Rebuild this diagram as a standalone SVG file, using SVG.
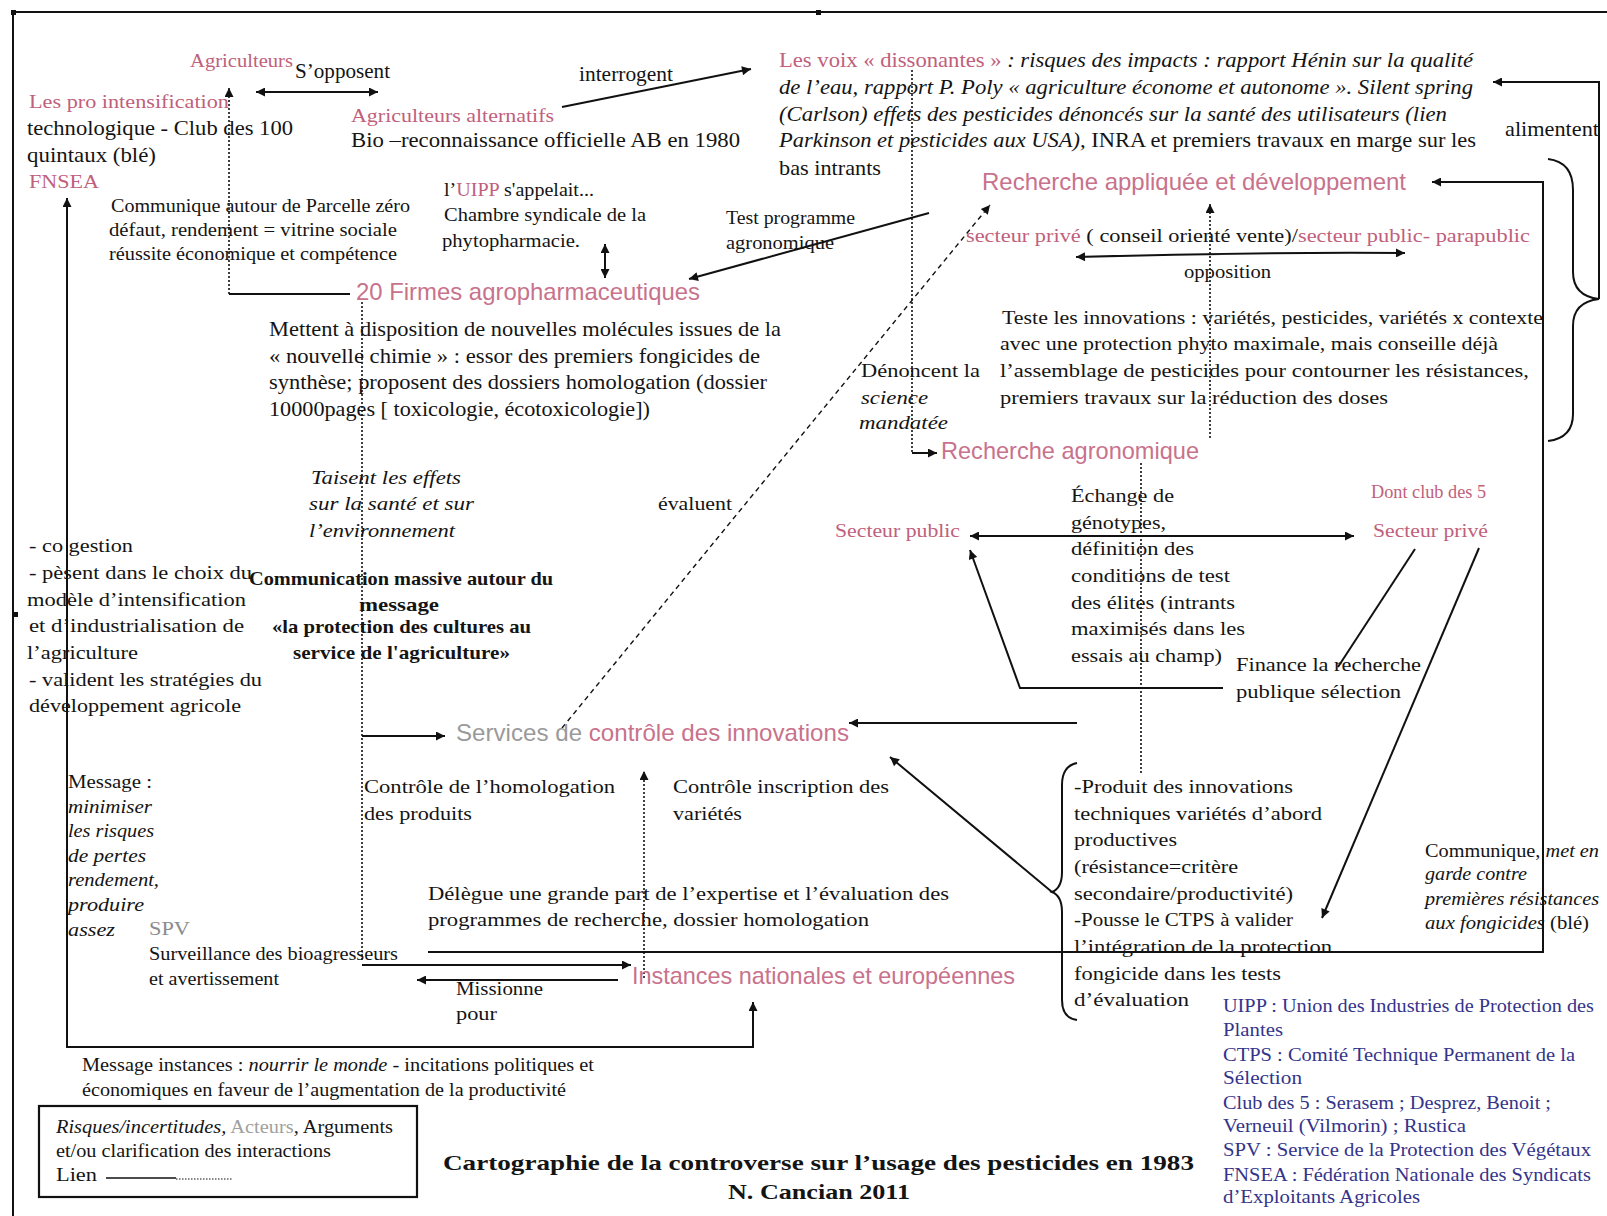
<svg xmlns="http://www.w3.org/2000/svg" width="1607" height="1216" viewBox="0 0 1607 1216">
<style>
.t{font-family:"Liberation Serif","Times New Roman",serif;font-size:21px;fill:#141414}
.s{font-size:19px}
.xs{font-size:18px}
.p{fill:#c0607c}
.g{fill:#8c8c8c}
.i{font-style:italic}
.b{font-weight:bold}
.big{font-family:"Liberation Sans",Arial,sans-serif;font-size:24px;fill:#c8728c}
.gl{font-family:"Liberation Serif","Times New Roman",serif;font-size:18px;fill:#34348a}
.ln{fill:none;stroke:#111;stroke-width:2}
.dot{fill:none;stroke:#111;stroke-width:1.6;stroke-dasharray:2 2}
.dash{fill:none;stroke:#111;stroke-width:1.4;stroke-dasharray:5 4}
</style>
<defs>
<marker id="ah" viewBox="0 0 10 10" refX="10" refY="5" markerWidth="12" markerHeight="9" markerUnits="userSpaceOnUse" orient="auto-start-reverse"><path d="M0,0 L10,5 L0,10 z" fill="#111"/></marker>
</defs>
<rect width="1607" height="1216" fill="#ffffff"/>
<g id="frame">
<path d="M13,1216 V12 H1607" fill="none" stroke="#111" stroke-width="2"/>
<rect x="11" y="10" width="5" height="5" fill="#111"/>
<rect x="816" y="10" width="5" height="5" fill="#111"/>
<rect x="13" y="612" width="5" height="5" fill="#111"/>
</g>
<g id="connectors">
<path class="ln" d="M256,92 H378" marker-start="url(#ah)" marker-end="url(#ah)"/>
<path class="dot" d="M229,294 V88" marker-end="url(#ah)"/>
<path class="ln" d="M229,294 H350"/>
<path class="ln" d="M562,107 L751,69" marker-end="url(#ah)"/>
<path class="ln" d="M605,244 V278" marker-start="url(#ah)" marker-end="url(#ah)"/>
<path class="ln" d="M929,213 L689,279" marker-end="url(#ah)"/>
<path class="ln" d="M67,198 V1047 H753 V1002" marker-start="url(#ah)" marker-end="url(#ah)"/>
<path class="dot" d="M912,70 V453"/>
<path class="ln" d="M912,453 H937" marker-end="url(#ah)"/>
<path class="ln" d="M1599,299 V82 H1493" marker-end="url(#ah)"/>
<path class="ln" d="M1548,159 Q1573,162 1573,190 V272 Q1573,296 1599,299 Q1573,302 1573,326 V414 Q1573,438 1548,441"/>
<path class="ln" d="M428,952 H1543 V182 H1432" marker-end="url(#ah)"/>
<path class="dash" d="M562,728 L990,205" marker-end="url(#ah)"/>
<path class="dot" d="M1210,438 V204" marker-end="url(#ah)"/>
<path class="ln" d="M1076,257 Q1240,252 1405,253" marker-start="url(#ah)" marker-end="url(#ah)"/>
<path class="dot" d="M362,302 V960"/>
<path class="ln" d="M362,736 H445" marker-end="url(#ah)"/>
<path class="dot" d="M1141,463 V775"/>
<path class="ln" d="M970,536 H1354" marker-start="url(#ah)" marker-end="url(#ah)"/>
<path class="ln" d="M1223,688 H1020 L970,550" marker-end="url(#ah)"/>
<path class="ln" d="M1338,667 L1415,549" stroke-width="1.4"/>
<path class="ln" d="M1479,548 L1322,918" stroke-width="1.4" marker-end="url(#ah)"/>
<path class="ln" d="M1077,723 H849" marker-end="url(#ah)"/>
<path class="ln" d="M1077,763 Q1062,766 1062,785 V872 Q1062,888 1052,892 Q1062,896 1062,912 V1000 Q1062,1018 1077,1020" stroke-width="1.4"/>
<path class="ln" d="M1052,892 L890,757" stroke-width="1.6" marker-end="url(#ah)"/>
<path class="dot" d="M644,978 V771" marker-end="url(#ah)"/>
<path class="ln" d="M362,965 H631" marker-end="url(#ah)"/>
<path class="ln" d="M618,980 H417" marker-end="url(#ah)"/>
</g>
<g id="n-agriculteurs"><text class="t p xs" x="190" y="67" textLength="103" lengthAdjust="spacingAndGlyphs">Agriculteurs</text></g>
<g id="l-sopposent"><text class="t" x="295" y="78" textLength="95" lengthAdjust="spacingAndGlyphs">S’opposent</text></g>
<g id="n-pro-intensification">
<text class="t p s" x="29" y="108" textLength="200" lengthAdjust="spacingAndGlyphs">Les pro intensification</text>
<text class="t" x="27" y="135" textLength="266" lengthAdjust="spacingAndGlyphs">technologique -  Club des 100</text>
<text class="t" x="27" y="162" textLength="129" lengthAdjust="spacingAndGlyphs">quintaux (blé)</text>
<text class="t p s" x="29" y="188" textLength="70" lengthAdjust="spacingAndGlyphs">FNSEA</text>
</g>
<g id="l-communique-parcelle">
<text class="t s" x="111" y="212" textLength="299" lengthAdjust="spacingAndGlyphs">Communique autour de Parcelle zéro</text>
<text class="t s" x="109" y="236" textLength="288" lengthAdjust="spacingAndGlyphs">défaut, rendement = vitrine sociale</text>
<text class="t s" x="109" y="260" textLength="288" lengthAdjust="spacingAndGlyphs">réussite économique et compétence</text>
</g>
<g id="l-interrogent"><text class="t" x="579" y="81" textLength="94" lengthAdjust="spacingAndGlyphs">interrogent</text></g>
<g id="n-agriculteurs-alternatifs">
<text class="t p s" x="351" y="122" textLength="203" lengthAdjust="spacingAndGlyphs">Agriculteurs alternatifs</text>
<text class="t" x="351" y="147" textLength="389" lengthAdjust="spacingAndGlyphs">Bio –reconnaissance officielle AB en 1980</text>
</g>
<g id="l-uipp">
<text class="t s" x="444" y="196" textLength="150" lengthAdjust="spacingAndGlyphs">l’<tspan class="p">UIPP</tspan> s'appelait...</text>
<text class="t s" x="444" y="221" textLength="202" lengthAdjust="spacingAndGlyphs">Chambre syndicale de la</text>
<text class="t s" x="442" y="247" textLength="138" lengthAdjust="spacingAndGlyphs">phytopharmacie.</text>
</g>
<g id="n-firmes"><text class="big" x="356" y="300" textLength="344" lengthAdjust="spacingAndGlyphs">20 Firmes agropharmaceutiques</text></g>
<g id="l-test">
<text class="t s" x="726" y="224" textLength="129" lengthAdjust="spacingAndGlyphs">Test programme</text>
<text class="t s" x="726" y="249" textLength="108" lengthAdjust="spacingAndGlyphs">agronomique</text>
</g>
<g id="n-voix-dissonantes">
<text class="t" x="779" y="67" textLength="694" lengthAdjust="spacingAndGlyphs"><tspan class="p">Les voix « dissonantes »</tspan><tspan class="i">  : risques des impacts : rapport Hénin sur la qualité</tspan></text>
<text class="t i" x="779" y="94" textLength="694" lengthAdjust="spacingAndGlyphs">de l’eau, rapport P. Poly « agriculture économe et autonome ». Silent spring</text>
<text class="t i" x="779" y="121" textLength="668" lengthAdjust="spacingAndGlyphs">(Carlson) effets des pesticides dénoncés sur la santé des utilisateurs (lien</text>
<text class="t" x="779" y="147" textLength="697" lengthAdjust="spacingAndGlyphs"><tspan class="i">Parkinson et pesticides aux USA),</tspan> INRA et premiers travaux en marge sur les</text>
<text class="t" x="779" y="175" textLength="102" lengthAdjust="spacingAndGlyphs">bas intrants</text>
</g>
<g id="l-alimentent"><text class="t" x="1505" y="136" textLength="94" lengthAdjust="spacingAndGlyphs">alimentent</text></g>
<g id="n-recherche-appliquee">
<text class="big" x="982" y="190" textLength="424" lengthAdjust="spacingAndGlyphs">Recherche appliquée et développement</text>
<text class="t s" x="966" y="242" textLength="564" lengthAdjust="spacingAndGlyphs"><tspan class="p">secteur privé</tspan> ( conseil orienté vente)/<tspan class="p">secteur public- parapublic</tspan></text>
</g>
<g id="l-opposition"><text class="t s" x="1184" y="278" textLength="87" lengthAdjust="spacingAndGlyphs">opposition</text></g>
<g id="l-teste">
<text class="t s" x="1002" y="324" textLength="541" lengthAdjust="spacingAndGlyphs">Teste les innovations : variétés, pesticides, variétés x contexte</text>
<text class="t s" x="1000" y="350" textLength="498" lengthAdjust="spacingAndGlyphs">avec une protection phyto maximale, mais conseille déjà</text>
<text class="t s" x="1000" y="377" textLength="529" lengthAdjust="spacingAndGlyphs">l’assemblage de pesticides pour contourner les résistances,</text>
<text class="t s" x="1000" y="404" textLength="388" lengthAdjust="spacingAndGlyphs">premiers travaux sur la réduction des doses</text>
</g>
<g id="l-mettent">
<text class="t" x="269" y="336" textLength="512" lengthAdjust="spacingAndGlyphs">Mettent à disposition de nouvelles molécules issues de la</text>
<text class="t" x="269" y="363" textLength="491" lengthAdjust="spacingAndGlyphs">« nouvelle chimie »  : essor des premiers fongicides de</text>
<text class="t" x="269" y="389" textLength="498" lengthAdjust="spacingAndGlyphs">synthèse; proposent des dossiers homologation (dossier</text>
<text class="t" x="269" y="416" textLength="381" lengthAdjust="spacingAndGlyphs">10000pages [ toxicologie, écotoxicologie])</text>
</g>
<g id="l-taisent">
<text class="t s i" x="311" y="484" textLength="150" lengthAdjust="spacingAndGlyphs">Taisent les effets</text>
<text class="t s i" x="309" y="510" textLength="165" lengthAdjust="spacingAndGlyphs">sur la santé et sur</text>
<text class="t s i" x="309" y="537" textLength="146" lengthAdjust="spacingAndGlyphs">l’environnement</text>
</g>
<g id="l-evaluent"><text class="t s" x="658" y="510" textLength="74" lengthAdjust="spacingAndGlyphs">évaluent</text></g>
<g id="l-denoncent">
<text class="t s" x="861" y="377" textLength="119" lengthAdjust="spacingAndGlyphs">Dénoncent la</text>
<text class="t s i" x="861" y="404" textLength="67" lengthAdjust="spacingAndGlyphs">science</text>
<text class="t s i" x="859" y="429" textLength="89" lengthAdjust="spacingAndGlyphs">mandatée</text>
</g>
<g id="n-recherche-agronomique"><text class="big" x="941" y="459" textLength="258" lengthAdjust="spacingAndGlyphs">Recherche agronomique</text></g>
<g id="l-echange">
<text class="t s" x="1071" y="502" textLength="103" lengthAdjust="spacingAndGlyphs">Échange de</text>
<text class="t s" x="1071" y="529" textLength="95" lengthAdjust="spacingAndGlyphs">génotypes,</text>
<text class="t s" x="1071" y="555" textLength="123" lengthAdjust="spacingAndGlyphs">définition des</text>
<text class="t s" x="1071" y="582" textLength="159" lengthAdjust="spacingAndGlyphs">conditions de test</text>
<text class="t s" x="1071" y="609" textLength="164" lengthAdjust="spacingAndGlyphs">des élites (intrants</text>
<text class="t s" x="1071" y="635" textLength="174" lengthAdjust="spacingAndGlyphs">maximisés dans les</text>
<text class="t s" x="1071" y="662" textLength="151" lengthAdjust="spacingAndGlyphs">essais au champ)</text>
</g>
<g id="n-secteur-public"><text class="t p xs" x="835" y="537" textLength="125" lengthAdjust="spacingAndGlyphs">Secteur public</text></g>
<g id="n-secteur-prive">
<text class="t p xs" x="1371" y="498" textLength="115" lengthAdjust="spacingAndGlyphs">Dont club des 5</text>
<text class="t p xs" x="1373" y="537" textLength="115" lengthAdjust="spacingAndGlyphs">Secteur privé</text>
</g>
<g id="l-finance">
<text class="t s" x="1236" y="671" textLength="185" lengthAdjust="spacingAndGlyphs">Finance la recherche</text>
<text class="t s" x="1236" y="698" textLength="165" lengthAdjust="spacingAndGlyphs">publique sélection</text>
</g>
<g id="l-cogestion">
<text class="t s" x="29" y="552" textLength="104" lengthAdjust="spacingAndGlyphs">- co gestion</text>
<text class="t s" x="29" y="579" textLength="223" lengthAdjust="spacingAndGlyphs">- pèsent dans le choix du</text>
<text class="t s" x="27" y="606" textLength="219" lengthAdjust="spacingAndGlyphs">modèle d’intensification</text>
<text class="t s" x="29" y="632" textLength="215" lengthAdjust="spacingAndGlyphs">et d’industrialisation de</text>
<text class="t s" x="27" y="659" textLength="111" lengthAdjust="spacingAndGlyphs">l’agriculture</text>
<text class="t s" x="29" y="686" textLength="233" lengthAdjust="spacingAndGlyphs">- valident les stratégies du</text>
<text class="t s" x="29" y="712" textLength="212" lengthAdjust="spacingAndGlyphs">développement agricole</text>
</g>
<g id="l-communication">
<text class="t s b" x="249" y="585" textLength="304" lengthAdjust="spacingAndGlyphs">Communication massive autour du</text>
<text class="t s b" x="359" y="611" textLength="80" lengthAdjust="spacingAndGlyphs">message</text>
<text class="t s b" x="272" y="633" textLength="259" lengthAdjust="spacingAndGlyphs">«la protection des cultures au</text>
<text class="t s b" x="293" y="659" textLength="217" lengthAdjust="spacingAndGlyphs">service de l'agriculture»</text>
</g>
<g id="n-services-controle"><text class="big" x="456" y="741" textLength="393" lengthAdjust="spacingAndGlyphs"><tspan fill="#9a9a9a">Services de </tspan>contrôle des innovations</text></g>
<g id="l-controle-homologation">
<text class="t s" x="364" y="793" textLength="251" lengthAdjust="spacingAndGlyphs">Contrôle de l’homologation</text>
<text class="t s" x="364" y="820" textLength="108" lengthAdjust="spacingAndGlyphs">des produits</text>
</g>
<g id="l-controle-inscription">
<text class="t s" x="673" y="793" textLength="216" lengthAdjust="spacingAndGlyphs">Contrôle inscription des</text>
<text class="t s" x="673" y="820" textLength="69" lengthAdjust="spacingAndGlyphs">variétés</text>
</g>
<g id="l-message">
<text class="t s" x="68" y="788" textLength="84" lengthAdjust="spacingAndGlyphs">Message :</text>
<text class="t s i" x="68" y="813" textLength="84" lengthAdjust="spacingAndGlyphs">minimiser</text>
<text class="t s i" x="68" y="837" textLength="86" lengthAdjust="spacingAndGlyphs">les risques</text>
<text class="t s i" x="68" y="862" textLength="78" lengthAdjust="spacingAndGlyphs">de pertes</text>
<text class="t s i" x="68" y="886" textLength="91" lengthAdjust="spacingAndGlyphs">rendement,</text>
<text class="t s i" x="68" y="911" textLength="76" lengthAdjust="spacingAndGlyphs">produire</text>
<text class="t s i" x="68" y="936" textLength="47" lengthAdjust="spacingAndGlyphs">assez</text>
</g>
<g id="n-spv">
<text class="t s g" x="149" y="935" textLength="41" lengthAdjust="spacingAndGlyphs">SPV</text>
<text class="t s" x="149" y="960" textLength="249" lengthAdjust="spacingAndGlyphs">Surveillance des bioagresseurs</text>
<text class="t s" x="149" y="985" textLength="130" lengthAdjust="spacingAndGlyphs">et avertissement</text>
</g>
<g id="l-delegue">
<text class="t s" x="428" y="900" textLength="521" lengthAdjust="spacingAndGlyphs">Délègue une grande part de l’expertise et l’évaluation des</text>
<text class="t s" x="428" y="926" textLength="441" lengthAdjust="spacingAndGlyphs">programmes de recherche, dossier homologation</text>
</g>
<g id="n-instances"><text class="big" x="632" y="984" textLength="383" lengthAdjust="spacingAndGlyphs">Instances nationales et européennes</text></g>
<g id="l-missionne">
<text class="t s" x="456" y="995" textLength="87" lengthAdjust="spacingAndGlyphs">Missionne</text>
<text class="t s" x="456" y="1020" textLength="41" lengthAdjust="spacingAndGlyphs">pour</text>
</g>
<g id="l-produit">
<text class="t s" x="1074" y="793" textLength="219" lengthAdjust="spacingAndGlyphs">-Produit des innovations</text>
<text class="t s" x="1074" y="820" textLength="248" lengthAdjust="spacingAndGlyphs">techniques variétés d’abord</text>
<text class="t s" x="1074" y="846" textLength="103" lengthAdjust="spacingAndGlyphs">productives</text>
<text class="t s" x="1074" y="873" textLength="164" lengthAdjust="spacingAndGlyphs">(résistance=critère</text>
<text class="t s" x="1074" y="900" textLength="219" lengthAdjust="spacingAndGlyphs">secondaire/productivité)</text>
<text class="t s" x="1074" y="926" textLength="219" lengthAdjust="spacingAndGlyphs">-Pousse le CTPS à valider</text>
<text class="t s" x="1074" y="953" textLength="258" lengthAdjust="spacingAndGlyphs">l’intégration de la protection</text>
<text class="t s" x="1074" y="980" textLength="207" lengthAdjust="spacingAndGlyphs">fongicide dans les tests</text>
<text class="t s" x="1074" y="1006" textLength="115" lengthAdjust="spacingAndGlyphs">d’évaluation</text>
</g>
<g id="l-met-en-garde">
<text class="t s" x="1425" y="857" textLength="174" lengthAdjust="spacingAndGlyphs">Communique, <tspan class="i">met en</tspan></text>
<text class="t s i" x="1425" y="880" textLength="102" lengthAdjust="spacingAndGlyphs">garde contre</text>
<text class="t s i" x="1425" y="905" textLength="174" lengthAdjust="spacingAndGlyphs">premières résistances</text>
<text class="t s" x="1425" y="929" textLength="164" lengthAdjust="spacingAndGlyphs"><tspan class="i">aux fongicides</tspan> (blé)</text>
</g>
<g id="l-message-instances">
<text class="t s" x="82" y="1071" textLength="512" lengthAdjust="spacingAndGlyphs">Message instances : <tspan class="i">nourrir le monde</tspan> - incitations politiques et</text>
<text class="t s" x="82" y="1096" textLength="484" lengthAdjust="spacingAndGlyphs">économiques en faveur de l’augmentation de la productivité</text>
</g>
<g id="legend">
<rect x="39" y="1106" width="378" height="91" fill="none" stroke="#111" stroke-width="2.2"/>
<text class="t xs" x="56" y="1133" textLength="337" lengthAdjust="spacingAndGlyphs"><tspan class="i">Risques/incertitudes,</tspan> <tspan fill="#a0a0a0">Acteurs</tspan>, Arguments</text>
<text class="t xs" x="56" y="1157" textLength="275" lengthAdjust="spacingAndGlyphs">et/ou clarification des interactions</text>
<text class="t xs" x="56" y="1181" textLength="41" lengthAdjust="spacingAndGlyphs">Lien</text>
<path d="M106,1178 H176" stroke="#111" stroke-width="1.5"/>
<path d="M176,1179 H232" stroke="#111" stroke-width="1.2" stroke-dasharray="1.5 1.5"/>
</g>
<g id="title">
<text class="t b" x="443" y="1170" font-size="23" textLength="751" lengthAdjust="spacingAndGlyphs">Cartographie de la controverse sur l’usage des pesticides  en 1983</text>
<text class="t b" x="728" y="1199" font-size="23" textLength="182" lengthAdjust="spacingAndGlyphs">N. Cancian 2011</text>
</g>
<g id="glossary">
<text class="gl" x="1223" y="1012" textLength="371" lengthAdjust="spacingAndGlyphs">UIPP : Union des Industries de Protection des</text>
<text class="gl" x="1223" y="1036" textLength="60" lengthAdjust="spacingAndGlyphs">Plantes</text>
<text class="gl" x="1223" y="1061" textLength="352" lengthAdjust="spacingAndGlyphs">CTPS : Comité Technique Permanent de la</text>
<text class="gl" x="1223" y="1084" textLength="79" lengthAdjust="spacingAndGlyphs">Sélection</text>
<text class="gl" x="1223" y="1109" textLength="328" lengthAdjust="spacingAndGlyphs">Club des 5 : Serasem ;  Desprez, Benoit ;</text>
<text class="gl" x="1223" y="1132" textLength="243" lengthAdjust="spacingAndGlyphs">Verneuil (Vilmorin) ; Rustica</text>
<text class="gl" x="1223" y="1156" textLength="368" lengthAdjust="spacingAndGlyphs">SPV :  Service de la Protection des Végétaux</text>
<text class="gl" x="1223" y="1181" textLength="368" lengthAdjust="spacingAndGlyphs">FNSEA : Fédération Nationale des Syndicats</text>
<text class="gl" x="1223" y="1203" textLength="197" lengthAdjust="spacingAndGlyphs">d’Exploitants Agricoles</text>
</g>
</svg>
